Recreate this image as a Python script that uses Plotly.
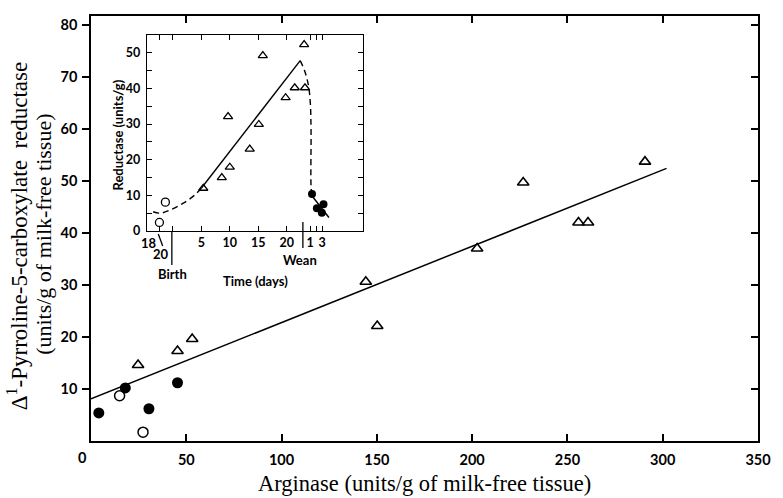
import plotly.graph_objects as go

# ---------------- main panel data ----------------
tri_arg = [24.7, 45.4, 53.1, 144.2, 150.2, 202.6, 226.8, 255.8, 260.8, 290.7]
tri_red = [14.6, 17.3, 19.6, 30.6, 22.1, 37.0, 49.7, 42.0, 42.0, 53.7]
fill_arg = [4.1, 18.0, 30.4, 45.4]
fill_red = [5.4, 10.2, 6.2, 11.2]
open_arg = [15.0, 27.3]
open_red = [8.7, 1.7]
fit_arg = [0, 302]
fit_red = [8.1, 52.4]
x_ticks = [50, 100, 150, 200, 250, 300, 350]
x_ticktext = ["50", "100", "150", "200", "250", "300", "350"]
y_ticks = [10, 20, 30, 40, 50, 60, 70, 80]
y_ticktext = ["10", "20", "30", "40", "50", "60", "70", "80"]

# ---------------- inset data (time in days from birth) ----------------
in_open_t = [-2.35, -1.3]
in_open_v = [2.4, 8.1]
in_tri_t = [5.35, 8.6, 10.0, 9.7, 13.5, 15.1, 15.8, 19.8, 21.4, 23.2, 23.05]
in_tri_v = [12.0, 15.0, 17.9, 32.1, 23.0, 29.9, 49.2, 37.4, 40.2, 40.2, 52.3]
in_fill_t = [24.43, 25.29, 26.45, 26.16]
in_fill_v = [10.4, 6.4, 7.5, 5.1]
dash1_t = [-3.45, -2.2, -0.45, 1.84, 3.86, 5.0]
dash1_v = [5.4, 5.0, 5.9, 7.8, 10.1, 12.0]
solid1_t = [5.0, 22.36]
solid1_v = [12.0, 47.8]
dash2_t = [22.36, 23.1, 23.8, 24.14, 24.26, 24.26, 24.4]
dash2_v = [47.8, 45.1, 40.9, 35.8, 28.3, 12.7, 10.4]
solid2_t = [24.55, 27.4]
solid2_v = [9.6, 3.8]
in_x_ticks = [5, 10, 15, 20, 24.1, 26.2]
in_x_ticktext = ["5", "10", "15", "20", "1", "3"]
in_x_minor = [-2.3, 0, 25.15]
in_y_ticks = [0, 10, 20, 30, 40, 50]
in_y_ticktext = ["0", "10", "20", "30", "40", "50"]
in_y_minor = [5, 15, 25, 35, 45]

W, H = 783, 498
L, R, T, B = 91, 13, 16, 57
PW, PH = W - L - R, H - T - B


def px(x):
    return (x - L) / PW


def py(y):
    return (T + PH - y) / PH


TICKFONT = dict(family="Lato", size=14.5, color="black", weight="bold")
INFONT = dict(family="Lato", size=12.5, color="black", weight="bold")
INLAB = dict(family="Lato", size=13, color="black", weight="bold")
SERIF = dict(family="Liberation Serif", size=22, color="black")

fig = go.Figure()

# main
fig.add_trace(go.Scatter(x=fit_arg, y=fit_red, mode="lines",
                         line=dict(color="black", width=1.5), showlegend=False))
fig.add_trace(go.Scatter(x=tri_arg, y=tri_red, mode="markers",
                         marker=dict(symbol="triangle-up-open", size=10, color="black",
                                     line=dict(width=1.6, color="black")), showlegend=False))
fig.add_trace(go.Scatter(x=fill_arg, y=fill_red, mode="markers",
                         marker=dict(symbol="circle", size=11, color="black"), showlegend=False))
fig.add_trace(go.Scatter(x=open_arg, y=open_red, mode="markers",
                         marker=dict(symbol="circle-open", size=10, color="black",
                                     line=dict(width=1.5, color="black")), showlegend=False))
# right-side inside ticks helper
fig.add_trace(go.Scatter(x=[None], y=[None], yaxis="y3", showlegend=False))

# inset
DASH = "6px,4px"
fig.add_trace(go.Scatter(x=dash1_t, y=dash1_v, mode="lines", xaxis="x2", yaxis="y2",
                         line=dict(color="black", width=1.4, dash=DASH, shape="spline"),
                         showlegend=False))
fig.add_trace(go.Scatter(x=solid1_t, y=solid1_v, mode="lines", xaxis="x2", yaxis="y2",
                         line=dict(color="black", width=1.4), showlegend=False))
fig.add_trace(go.Scatter(x=dash2_t, y=dash2_v, mode="lines", xaxis="x2", yaxis="y2",
                         line=dict(color="black", width=1.4, dash=DASH, shape="spline"),
                         showlegend=False))
fig.add_trace(go.Scatter(x=solid2_t, y=solid2_v, mode="lines", xaxis="x2", yaxis="y2",
                         line=dict(color="black", width=1.4), showlegend=False))
fig.add_trace(go.Scatter(x=in_tri_t, y=in_tri_v, mode="markers", xaxis="x2", yaxis="y2",
                         marker=dict(symbol="triangle-up-open", size=8, color="black",
                                     line=dict(width=1.3, color="black")), showlegend=False))
fig.add_trace(go.Scatter(x=in_open_t, y=in_open_v, mode="markers", xaxis="x2", yaxis="y2",
                         marker=dict(symbol="circle-open", size=8, color="black",
                                     line=dict(width=1.3, color="black")), showlegend=False))
fig.add_trace(go.Scatter(x=in_fill_t, y=in_fill_v, mode="markers", xaxis="x2", yaxis="y2",
                         marker=dict(symbol="circle", size=8, color="black"), showlegend=False))

fig.update_layout(
    width=W, height=H,
    margin=dict(l=L, r=R, t=T, b=B),
    paper_bgcolor="white", plot_bgcolor="white",
    xaxis=dict(range=[0, 350], tickvals=x_ticks, ticktext=x_ticktext,
               ticks="inside", ticklen=7, tickwidth=1.5, tickcolor="black",
               showline=True, linecolor="black", linewidth=1.5, mirror="ticks",
               showgrid=False, zeroline=False, tickfont=TICKFONT, ticklabelstandoff=5,
               ticklabeloverflow="allow"),
    yaxis=dict(range=[0, 81.7], tickvals=y_ticks, ticktext=y_ticktext,
               ticks="outside", ticklen=7, tickwidth=1.5, tickcolor="black",
               showline=True, linecolor="black", linewidth=1.5, mirror=True,
               showgrid=False, zeroline=False, tickfont=TICKFONT, ticklabelstandoff=2),
    yaxis3=dict(range=[0, 81.7], overlaying="y", side="right", anchor="x",
                tickvals=y_ticks, ticks="inside", ticklen=7, tickwidth=1.5,
                tickcolor="black", showticklabels=False, showline=True,
                linecolor="black", linewidth=1.5,
                showgrid=False, zeroline=False),
    xaxis2=dict(domain=[px(148), px(368)], anchor="y2", range=[-4.53, 33.4],
                tickvals=in_x_ticks, ticktext=in_x_ticktext,
                ticks="inside", ticklen=5, tickwidth=1.3, tickcolor="black",
                minor=dict(tickvals=in_x_minor, ticks="inside", ticklen=5,
                           tickwidth=1.3, tickcolor="black"),
                showline=True, linecolor="black", linewidth=1.4, mirror="ticks",
                showgrid=False, zeroline=False, tickfont=INFONT, ticklabelstandoff=0),
    yaxis2=dict(domain=[py(231), py(35)], anchor="x2", range=[0, 55],
                tickvals=in_y_ticks, ticktext=in_y_ticktext,
                ticks="inside", ticklen=5, tickwidth=1.3, tickcolor="black",
                minor=dict(tickvals=in_y_minor, ticks="inside", ticklen=5,
                           tickwidth=1.3, tickcolor="black"),
                showline=True, linecolor="black", linewidth=1.4, mirror="ticks",
                showgrid=False, zeroline=False, tickfont=INFONT, ticklabelstandoff=3),
)

ann = []
# main axis titles
ann.append(dict(text="Arginase (units/g of milk-free tissue)", x=px(431), y=py(484),
                xref="paper", yref="paper", showarrow=False,
                font=dict(family="Liberation Serif", size=22.5, color="black"),
                xanchor="center", yanchor="middle"))
ann.append(dict(text="Δ<sup>1</sup>-Pyrroline-5-carboxylate  reductase", x=px(17), y=py(236),
                xref="paper", yref="paper", showarrow=False,
                font=dict(family="Liberation Serif", size=23, color="black"), textangle=-90,
                xanchor="center", yanchor="middle"))
ann.append(dict(text="(units/g of milk-free tissue)", x=px(42), y=py(234),
                xref="paper", yref="paper", showarrow=False, font=SERIF, textangle=-90,
                xanchor="center", yanchor="middle"))
# origin label
ann.append(dict(text="0", x=px(82), y=py(457), xref="paper", yref="paper", showarrow=False,
                font=TICKFONT, xanchor="center", yanchor="middle"))
# inset labels
for txt, x0, y0 in [("18", 150, 243), ("20", 162, 254), ("Wean", 304, 260),
                    ("Birth", 173.5, 274), ("Time (days)", 258.5, 281)]:
    ann.append(dict(text=txt, x=px(x0), y=py(y0), xref="paper", yref="paper",
                    showarrow=False, font=INLAB, xanchor="center", yanchor="middle"))
ann.append(dict(text="Reductase (units/g)", x=px(118), y=py(135), xref="paper", yref="paper",
                showarrow=False, font=INLAB, textangle=-90,
                xanchor="center", yanchor="middle"))
fig.update_layout(annotations=ann)

shapes = []
for (x0, y0, x1, y1) in [(173.3, 232, 173.3, 265),   # birth line
                         (306.7, 222, 306.7, 248),   # wean line
                         (159.5, 234, 164, 246)]:    # slash to "20"
    shapes.append(dict(type="line", xref="paper", yref="paper",
                       x0=px(x0), y0=py(y0), x1=px(x1), y1=py(y1),
                       line=dict(color="black", width=1.3)))
fig.update_layout(shapes=shapes)

fig.write_html("out.html", config={"displayModeBar": False},
               post_script="document.body.style.margin='0';document.body.style.overflow='hidden';")
